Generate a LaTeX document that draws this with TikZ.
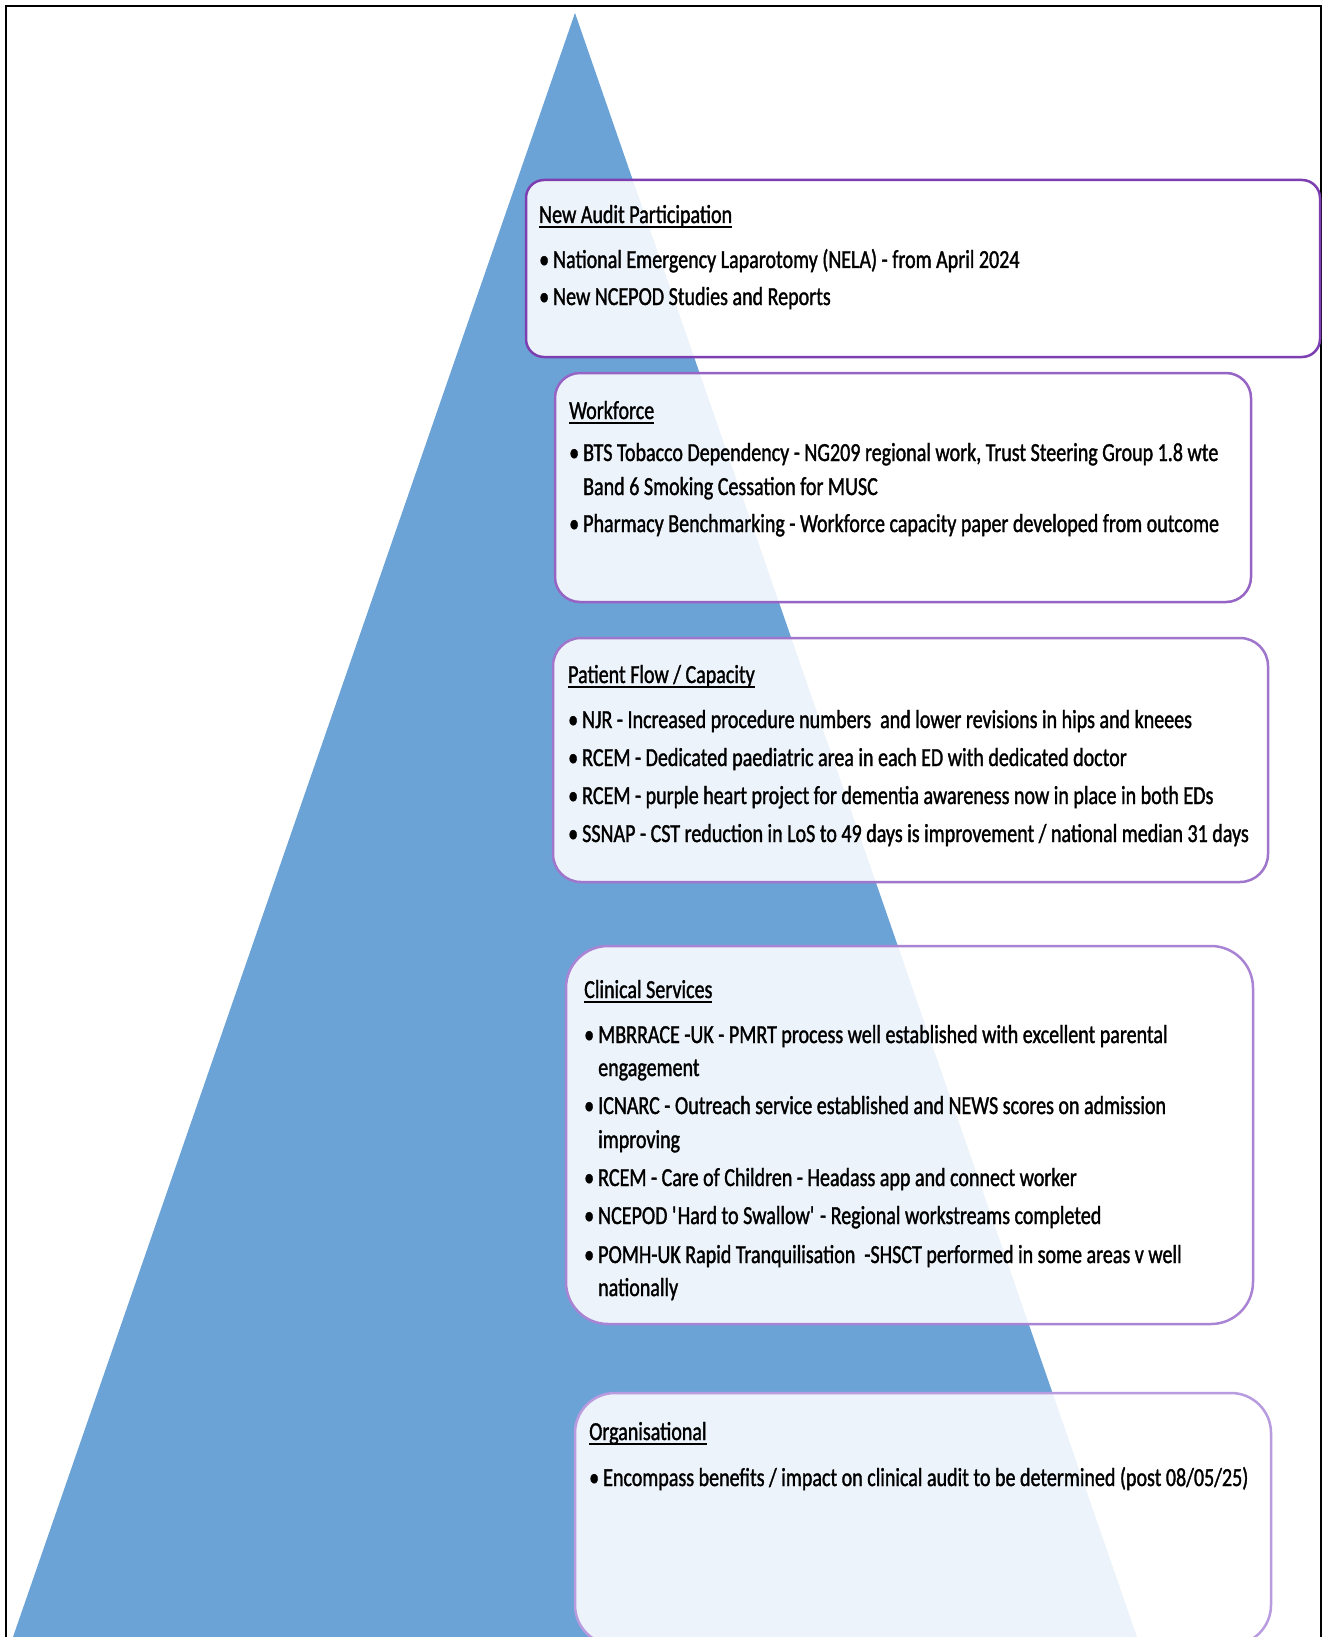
\documentclass[tikz,border=0pt]{standalone}
\usepackage{fontspec}
\setmainfont{Carlito}[FakeStretch=0.77,FakeBold=1.3]
\definecolor{tri}{RGB}{108,163,214}
\definecolor{bdA}{RGB}{125,62,178}
\definecolor{bdB}{RGB}{150,100,196}
\definecolor{bdC}{RGB}{160,118,204}
\definecolor{bdD}{RGB}{170,132,212}
\definecolor{bdE}{RGB}{185,155,224}
\newcommand\hdl[1]{\sbox0{#1}\rlap{\rule[-5pt]{\wd0}{2.2pt}}\usebox0}
\newcommand\bul{\makebox[14pt][l]{•}}
\tikzset{
  panel/.style={line width=2.5pt, fill=white, fill opacity=0.88},
  txt/.style={anchor=base west, inner sep=0pt, font=\fontsize{26}{32}\selectfont, text=black}
}
\begin{document}
\begin{tikzpicture}[x=1pt,y=-1pt]
\useasboundingbox (0,0) rectangle (1329,1637);
\begin{scope}
\clip (0,0) rectangle (1329,1637);
\fill[white] (0,0) rectangle (1329,1637);
% pyramid
\fill[tri] (575,13) -- (13,1637) -- (1137,1637) -- cycle;
% frame
\draw[line width=2.5pt] (6,1700) -- (6,6) -- (1321,6) -- (1321,1700);
% panels
\draw[panel, draw=bdA, rounded corners=18pt] (526,180) rectangle (1320,357);
\draw[panel, draw=bdB, rounded corners=25pt] (555,373) rectangle (1251,602);
\draw[panel, draw=bdC, rounded corners=28pt] (553,638) rectangle (1268,882);
\draw[panel, draw=bdD, rounded corners=42pt] (566,946) rectangle (1253,1324);
\draw[panel, draw=bdE, rounded corners=40pt] (575,1393) rectangle (1271,1645);
\end{scope}
% box 1
\node[txt] (h1) at (539,223) {\hdl{New Audit Participation}};
\node[txt] (a1) at (539,268) {\bul National Emergency Laparotomy (NELA) - from April 2024};
\node[txt] (a2) at (539,305) {\bul New NCEPOD Studies and Reports};
% box 2
\node[txt] (h2) at (569,419) {\hdl{Workforce}};
\node[txt] (w1) at (569,461) {\bul BTS Tobacco Dependency - NG209 regional work, Trust Steering Group 1.8 wte};
\node[txt] (w1b) at (583,495) {Band 6 Smoking Cessation for MUSC};
\node[txt] (w2) at (569,532) {\bul Pharmacy Benchmarking - Workforce capacity paper developed from outcome};
% box 3
\node[txt] (h3) at (568,683) {\hdl{Patient Flow / Capacity}};
\node[txt] (p1) at (568,728) {\bul NJR - Increased procedure numbers\ \ and lower revisions in hips and kneees};
\node[txt] (p2) at (568,766) {\bul RCEM - Dedicated paediatric area in each ED with dedicated doctor};
\node[txt] (p3) at (568,804) {\bul RCEM - purple heart project for dementia awareness now in place in both EDs};
\node[txt] (p4) at (568,842) {\bul SSNAP - CST reduction in LoS to 49 days is improvement / national median 31 days};
% box 4
\node[txt] (h4) at (584,998) {\hdl{Clinical Services}};
\node[txt] (c1) at (584,1043) {\bul MBRRACE -UK - PMRT process well established with excellent parental};
\node[txt] (c1b) at (598,1076) {engagement};
\node[txt] (c2) at (584,1114) {\bul ICNARC - Outreach service established and NEWS scores on admission};
\node[txt] (c2b) at (598,1148) {improving};
\node[txt] (c3) at (584,1186) {\bul RCEM - Care of Children - Headass app and connect worker};
\node[txt] (c4) at (584,1224) {\bul NCEPOD \textquotesingle Hard to Swallow\textquotesingle\ - Regional workstreams completed};
\node[txt] (c5) at (584,1263) {\bul POMH-UK Rapid Tranquilisation\ \ -SHSCT performed in some areas v well};
\node[txt] (c5b) at (598,1296) {nationally};
% box 5
\node[txt] (h5) at (589,1440) {\hdl{Organisational}};
\node[txt] (o1) at (589,1486) {\bul Encompass benefits / impact on clinical audit to be determined (post 08/05/25)};
\end{tikzpicture}
\end{document}
